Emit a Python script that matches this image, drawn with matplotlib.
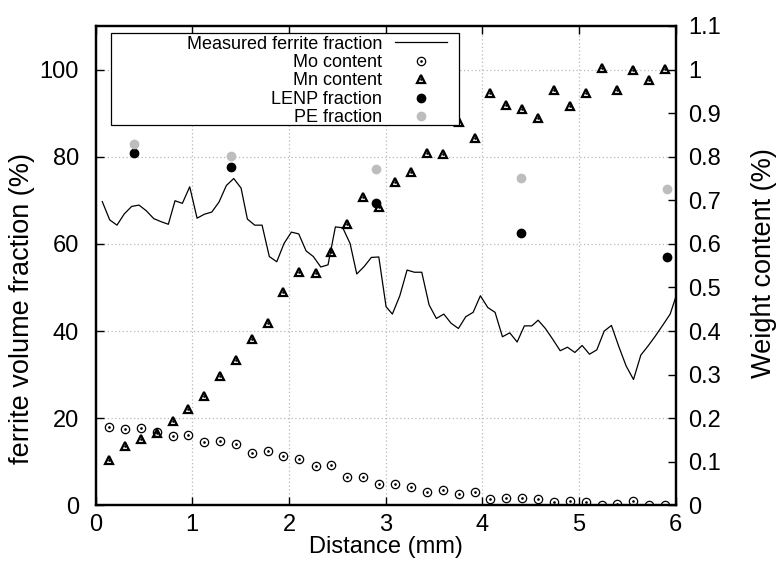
import matplotlib
matplotlib.use("Agg")
import matplotlib.pyplot as plt
from matplotlib.lines import Line2D
from matplotlib.patches import Rectangle
from matplotlib.ticker import FormatStrFormatter

plt.rcParams['font.family'] = ['Liberation Sans', 'DejaVu Sans']
plt.rcParams['font.size'] = 17

# measured ferrite fraction (left axis, %)
ferrite_x = [0.070, 0.147, 0.222, 0.298, 0.374, 0.450, 0.525, 0.602, 0.677, 0.753,
             0.822, 0.898, 0.974, 1.050, 1.125, 1.202, 1.277, 1.353, 1.429, 1.505,
             1.570, 1.646, 1.722, 1.797, 1.874, 1.949, 2.025, 2.101, 2.177, 2.252,
             2.329, 2.404, 2.480, 2.556, 2.632, 2.701, 2.777, 2.852, 2.929, 3.004,
             3.069, 3.146, 3.221, 3.297, 3.373, 3.449, 3.524, 3.601, 3.676, 3.752,
             3.828, 3.904, 3.979, 4.056, 4.131, 4.207, 4.283, 4.359, 4.434, 4.511,
             4.576, 4.651, 4.728, 4.804, 4.879, 4.956, 5.031, 5.107, 5.183, 5.259,
             5.334, 5.411, 5.486, 5.562, 5.638, 5.713, 5.789, 5.866, 5.941, 6.017]
ferrite_y = [69.7, 65.5, 64.3, 66.9, 68.6, 68.9, 67.6, 65.8, 65.1, 64.5,
             69.9, 69.3, 73.1, 65.9, 66.8, 67.3, 69.6, 73.4, 75.0, 72.8,
             65.7, 64.3, 64.3, 57.1, 55.9, 60.1, 62.7, 62.3, 58.4, 57.1,
             54.7, 55.2, 63.9, 63.7, 60.1, 53.1, 54.8, 56.9, 57.0, 45.6,
             43.9, 48.1, 54.0, 53.5, 53.5, 46.0, 42.9, 43.9, 41.8, 40.6,
             43.3, 44.3, 48.1, 45.4, 44.3, 38.7, 39.6, 37.5, 41.2, 41.2,
             42.5, 40.6, 38.1, 35.5, 36.3, 35.1, 36.7, 34.7, 35.7, 40.0,
             41.3, 36.4, 32.0, 28.9, 34.5, 36.6, 38.9, 41.4, 43.9, 49.0]

# Mo / Mn weight content (right axis, %)
comp_x = [0.143, 0.305, 0.467, 0.633, 0.798, 0.957, 1.125, 1.288, 1.450, 1.618,
          1.784, 1.942, 2.108, 2.277, 2.438, 2.600, 2.770, 2.935, 3.100, 3.263,
          3.428, 3.590, 3.756, 3.921, 4.083, 4.248, 4.414, 4.579, 4.738, 4.904,
          5.069, 5.235, 5.396, 5.561, 5.727, 5.890]
mo = [0.179, 0.175, 0.177, 0.168, 0.160, 0.162, 0.146, 0.149, 0.141, 0.120,
      0.124, 0.114, 0.107, 0.091, 0.092, 0.066, 0.065, 0.049, 0.049, 0.042,
      0.030, 0.035, 0.027, 0.031, 0.015, 0.017, 0.018, 0.016, 0.008, 0.011,
      0.007, 0.001, 0.003, 0.010, 0.001, 0.001]
mn = [0.104, 0.137, 0.153, 0.166, 0.193, 0.221, 0.250, 0.297, 0.334, 0.381,
      0.418, 0.489, 0.536, 0.534, 0.581, 0.646, 0.708, 0.684, 0.741, 0.766,
      0.808, 0.806, 0.880, 0.842, 0.945, 0.918, 0.909, 0.888, 0.953, 0.916,
      0.947, 1.003, 0.953, 0.999, 0.976, 1.001]

# predicted fractions (left axis, %)
pred_x = [0.398, 1.404, 2.904, 4.40, 5.907]
lenp = [80.9, 77.6, 69.4, 62.6, 57.1]
pe = [82.8, 80.2, 77.2, 75.1, 72.7]

fig = plt.figure(figsize=(7.79, 5.67), dpi=100)
ax = fig.add_axes([0.1226, 0.1085, 0.745, 0.8458])
ax2 = ax.twinx()

ax.set_xlim(0, 6)
ax.set_ylim(0, 110)
ax2.set_ylim(0, 1.1)
ax.set_xticks(range(0, 7))
ax.set_yticks(range(0, 101, 20))
ax2.set_yticks([i / 10 for i in range(12)])
ax2.yaxis.set_major_formatter(FormatStrFormatter('%g'))

ax.grid(True, color='#b8b8b8', linestyle=(0, (1, 2)), linewidth=0.9)
ax.set_axisbelow(True)

ax.tick_params(axis='x', direction='in', top=True, length=6, width=1, pad=6)
ax.tick_params(axis='y', direction='in', right=False, length=6, width=1, pad=12)
ax2.tick_params(axis='y', direction='in', length=6, width=1, pad=9)
for a in (ax, ax2):
    for s in a.spines.values():
        s.set_linewidth(1.6)

ax.plot(ferrite_x, ferrite_y, color='black', lw=0.9, clip_on=True)
ax.plot(pred_x, lenp, 'o', color='black', ms=6, zorder=3)
ax.plot(pred_x, pe, 'o', color='#bdbdbd', ms=6, zorder=3)

ax2.plot(comp_x, mo, 'o', mfc='none', mec='black', mew=0.9, ms=6)
ax2.plot(comp_x, mn, '^', mfc='none', mec='black', mew=1.6, ms=6.2)
ax2.plot(comp_x, mo, '.', color='black', ms=1.8)
ax2.plot(comp_x, mn, '.', color='black', ms=1.8)

ax.set_xlabel('Distance (mm)', labelpad=0)
ax.set_ylabel('ferrite volume fraction (%)', fontsize=19.5)
ax.yaxis.set_label_coords(-0.104, 0.41)
ax2.set_ylabel('Weight content (%)', fontsize=19.5)
ax2.yaxis.set_label_coords(1.13, 0.505)

# legend box, gnuplot style (labels right-aligned, sample on the right)
ax2.add_patch(Rectangle((0.026, 0.7934), 0.600, 0.1912, transform=ax2.transAxes,
                        facecolor='white', edgecolor='black', lw=0.9, zorder=5))
dot = Line2D([], [], ls='none', marker='.', color='black', ms=1.8)
handles = [
    Line2D([], [], color='black', lw=0.9),
    (Line2D([], [], ls='none', marker='o', mfc='none', mec='black', mew=0.9, ms=6), dot),
    (Line2D([], [], ls='none', marker='^', mfc='none', mec='black', mew=1.6, ms=6.2), dot),
    Line2D([], [], ls='none', marker='o', color='black', ms=6),
    Line2D([], [], ls='none', marker='o', color='#bdbdbd', ms=6),
]
labels = ['Measured ferrite fraction', 'Mo content', 'Mn content',
          'LENP fraction', 'PE fraction']
leg = ax2.legend(handles, labels, loc='upper right', bbox_to_anchor=(0.618, 0.995),
                 frameon=False, markerfirst=False, handlelength=2.9,
                 handletextpad=0.7, labelspacing=0.08, borderaxespad=0,
                 fontsize=13)
leg.set_zorder(6)

fig.savefig('out.png', dpi=100)
